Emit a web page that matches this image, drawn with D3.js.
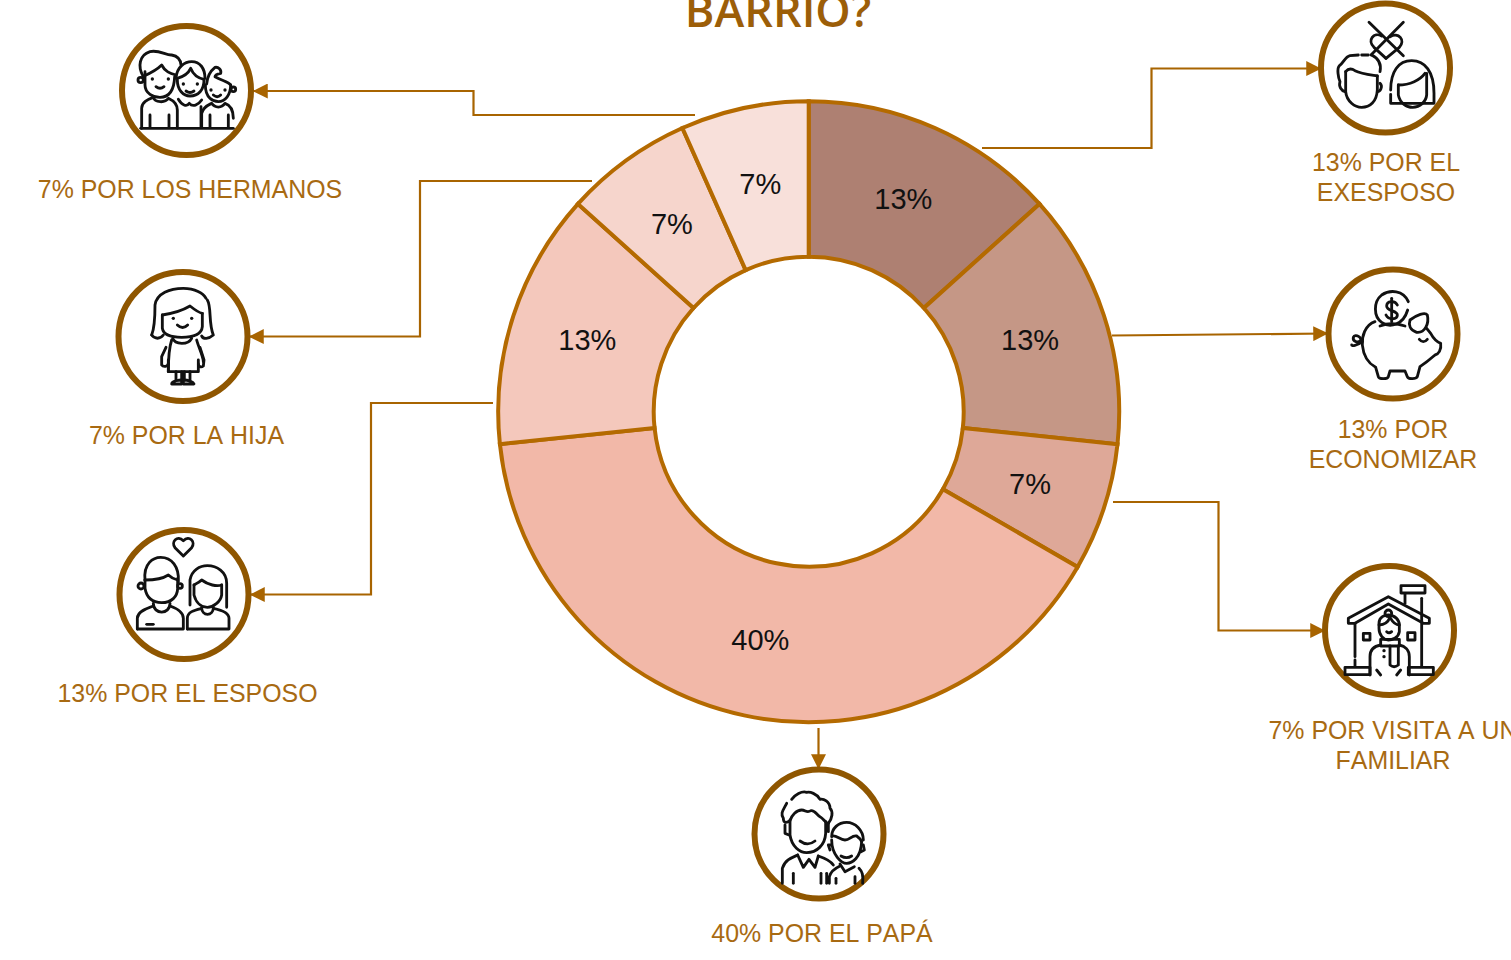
<!DOCTYPE html>
<html><head><meta charset="utf-8">
<script src="https://cdn.jsdelivr.net/npm/d3@7/dist/d3.min.js"></script>
<style>html,body{margin:0;padding:0;background:#fff;overflow:hidden}svg{display:block}text{font-kerning:none}</style>
</head><body><svg id="c" width="1511" height="960"></svg>
<script>
const sliceNames = ["Exesposo","Economizar","Visita a un familiar","Papá","Esposo","Hija","Hermanos"];
const sliceValues = [2,2,1,6,2,1,1];
const sliceLabels = ["13%","13%","7%","40%","13%","7%","7%"];
const sliceColors = ["#ae8072","#c59786","#dea898","#f2b8a8","#f4c8bc","#f6d5cc","#f8e0da"];

const svg = d3.select("#c");
const BROWN="#a86400", RING="#8f5600", LABEL="#a86a12", STROKE="#b46a00";

svg.append("defs").append("marker").attr("id","arr").attr("viewBox","0 0 12 12")
  .attr("refX",11).attr("refY",6).attr("markerWidth",15).attr("markerHeight",15)
  .attr("markerUnits","userSpaceOnUse").attr("orient","auto")
  .append("path").attr("d","M0,0L12,6L0,12Z").attr("fill",BROWN);

svg.append("text").attr("x",778).attr("y",27).attr("text-anchor","middle")
  .attr("font-family","'Open Sans',sans-serif").attr("font-weight",600).attr("font-size",45)
  .attr("fill","#9c5e08").text("BARRIO?");

// donut
const cx=808.7, cy=411.7;
const pie=d3.pie().sort(null).value(d=>d)(sliceValues);
const arc=d3.arc().innerRadius(155).outerRadius(310.5);
const g=svg.append("g").attr("transform",`translate(${cx},${cy})`);
g.selectAll("path").data(pie).join("path").attr("d",arc)
  .attr("fill",(d,i)=>sliceColors[i]).attr("stroke",STROKE).attr("stroke-width",4);
g.selectAll("text").data(pie).join("text")
  .attr("transform",d=>`translate(${arc.centroid(d)})`).attr("text-anchor","middle").attr("dy","0.35em")
  .attr("font-family","'Liberation Sans',Arial,sans-serif").attr("font-size",29).attr("fill","#111")
  .text((d,i)=>sliceLabels[i]);

// connectors
const line=d3.line();
const connectors=[
 [[695,115],[473.5,115],[473.5,91],[254,91]],
 [[592,181],[420,181],[420,336.5],[250,336.5]],
 [[493,403],[371,403],[371,594.5],[251,594.5]],
 [[982,148],[1151.5,148],[1151.5,68.5],[1320,68.5]],
 [[1112,335.5],[1327,333.5]],
 [[1113,502],[1218.5,502],[1218.5,630.5],[1324,630.5]],
 [[818.5,728],[818.5,768]]
];
svg.selectAll("path.conn").data(connectors).join("path").attr("class","conn").attr("d",line)
  .attr("fill","none").attr("stroke",BROWN).attr("stroke-width",2.2).attr("marker-end","url(#arr)");

// circular badges with line icons; icon paths are in 3x crop units
const dot=(x,y,r)=>`M${x-r},${y}a${r},${r} 0 1,0 ${2*r},0a${r},${r} 0 1,0 ${-2*r},0Z`;
const badges=[
 {c:[186.5,90.5],o:[100,10],d:[
  "M130,200C112,170 118,135 150,125C175,118 200,137 215,135C232,138 242,150 243,165",
  dot(122,210,8),
  "M135,185L135,225C135,250 160,262 180,262C200,262 222,250 224,200",
  "M132,198C150,190 170,180 185,165C195,185 210,190 228,195",
  "M168,230Q180,240 192,230","M125,355L125,295C125,275 145,268 160,262C165,278 195,280 205,265C220,272 232,285 232,300L232,355",
  "M150,315L150,352","M207,315L207,352","M122,355L400,355",
  "M228,205C230,170 255,155 275,155C300,155 315,175 315,205",
  "M232,205C250,200 265,190 272,175C280,195 295,205 312,208",
  "M232,210C232,240 250,258 270,258C295,258 312,240 312,210",
  "M258,243Q270,252 282,243","M235,268C245,285 260,292 268,280C278,292 295,285 305,270","M303,352L303,290",
  "M316,225C316,265 340,275 355,275C375,275 392,255 392,225",
  "M320,222C322,195 335,180 345,172C355,170 365,180 362,190C352,192 345,195 345,200C365,212 385,215 392,225",
  dot(400,238,7),"M340,255Q352,265 362,255",
  "M305,352L305,310C310,290 325,285 335,280C345,295 365,295 375,280C390,285 400,300 400,325",
  "M330,315L330,352","M385,315L385,352"],
  dots:[[157,207],[205,207],[250,222],[292,222],[333,240],[375,240]]},
 {c:[183,336.5],o:[100,260],d:[
  "M155,225C165,200 165,165 165,135C170,100 210,85 250,85C285,85 310,100 318,115",
  "M322,120C335,140 325,190 340,225C325,238 310,238 305,228","M155,225C165,238 180,238 190,225",
  "M187,165L187,205C190,225 210,232 245,232C285,232 305,222 307,200L307,160",
  "M187,165C220,160 250,150 270,138C285,150 295,158 307,160","M232,195Q248,210 263,195",
  "M218,235C225,255 265,255 275,235","M215,240C205,270 205,305 205,335L295,335L295,300","M205,335L205,300",
  "M290,240C295,260 310,290 310,305","M198,262L185,290L185,315C190,322 205,320 205,310",
  "M300,262L312,300L310,318C305,322 295,322 295,312","M228,335L228,358","M245,335L245,358","M253,335L253,358","M270,335L270,358",
  "M215,372C215,362 240,360 245,360L245,372Z","M250,372L250,360C265,360 280,365 282,372Z"],
  dots:[[220,175],[275,175]]},
 {c:[184,594.5],o:[100,520],d:[
  "M250,108L225,83C212,65 232,45 250,62C268,45 288,65 275,83Z",
  "M135,180C130,130 160,112 182,112C215,112 238,140 235,185",
  "M135,180L135,205C140,235 160,248 185,248C215,248 232,230 233,205L233,175",
  "M135,180C160,180 190,175 205,165C215,175 225,178 233,180",dot(123,198,9),dot(240,198,7),
  "M160,250C160,285 210,285 210,250","M112,327L112,295C112,275 140,265 160,258","M210,258C230,265 250,275 250,295L250,327L112,327","M140,313L160,313",
  "M270,255L270,180C275,150 300,137 322,137C350,137 380,155 380,190L380,262",
  "M282,195L282,225C290,255 310,262 322,262C340,262 362,245 365,225L365,195",
  "M282,195C300,185 305,180 305,180C325,195 350,200 365,195","M305,262C305,290 340,290 340,262",
  "M262,327L262,295C262,275 285,270 305,265","M340,265C365,270 387,280 387,295L387,327L262,327"],dots:[]},
 {c:[1385.5,68],o:[1300,0],d:[
  "M207,67L310,167","M310,67L213,165",
  "M258,175L222,142C200,120 222,95 245,108","M270,110C295,95 318,120 298,142L258,175",
  "M175,165L150,167C135,170 130,190 118,197C110,205 115,235 120,245C115,260 125,272 135,275",
  "M137,215L137,275C140,305 165,322 185,322C210,322 230,305 232,270L232,228",
  "M137,215C145,205 155,205 165,212C185,222 215,225 232,228","M240,250C250,260 240,275 233,275","M185,165L205,165",
  "M215,165C235,175 245,190 240,215",
  "M272,270C272,215 295,182 335,182C375,182 402,215 402,280L402,310L272,310L272,283",
  "M295,255L295,285C300,310 320,322 338,322C360,322 378,305 380,285L380,220","M295,255C330,255 360,240 375,220"],dots:[]},
 {c:[1393,334],o:[1310,260],d:[
  "M295,125C280,90 240,88 215,105C190,125 190,170 215,187C240,205 280,195 293,150",
  "M262,135C255,120 230,122 230,138C230,155 262,150 262,165C262,180 235,180 228,165","M245,115L245,185",
  "M210,198C230,190 260,190 285,198",
  "M195,185C165,195 155,230 157,255C160,285 175,310 197,322L205,350C208,358 232,358 235,350L240,333L285,333L292,350C295,358 318,358 322,350L330,320C345,310 360,298 375,285C385,283 395,270 392,250C380,245 370,235 362,220L350,205",
  "M300,180C320,165 345,155 352,165C358,190 345,220 320,217C300,210 295,195 300,180Z",
  "M328,238Q340,252 352,238","M157,245C140,258 125,258 125,255M150,245C160,232 135,220 130,232C127,245 145,250 155,240"],dots:[]},
 {c:[1389.5,630.5],o:[1310,560],d:[
  "M115,175L235,110L358,175L358,190L340,190L235,132L135,190L115,190Z",
  "M273,77h72v22h-72Z","M285,100L285,130","M335,115L335,320","M135,190L135,290","M135,300L135,320",
  "M105,322h75v22h-75Z","M295,322h75v22h-75Z","M160,220h20v20h-20Z","M293,218h22v22h-22Z",
  "M207,190C207,170 225,165 235,165C255,165 268,180 268,195L268,215C265,235 245,240 235,240C220,240 207,225 207,205Z",
  dot(235,160,10),"M207,195C225,195 235,185 240,172C250,190 260,195 268,195","M230,215Q237,222 245,215",
  "M212,238L268,238L268,258L212,258Z","M240,258L240,315Q252,325 265,315L265,258",
  "M180,345L180,290C180,265 195,258 212,255","M268,255C285,258 298,270 298,290L298,345",
  "M200,330L212,345","M272,330L260,345"],
  dots:[[222,272],[222,290]]},
 {c:[819,834],o:[735,760],d:[
  "M155,130C145,150 135,160 145,175C145,190 155,190 165,182C170,165 185,150 200,150C212,150 215,160 228,152C240,150 245,165 255,170C265,175 272,190 280,190C292,175 295,155 285,145C285,125 265,115 255,118C245,100 225,95 215,97C200,92 180,105 170,118",
  "M165,180L165,225C170,260 195,278 215,278C245,278 270,255 272,220L272,185",
  "M150,195L150,220L162,225","M280,190L280,215","M195,243Q218,260 240,243",
  "M188,285L205,322L222,298L240,322L250,288","M142,370L142,325C150,300 170,293 188,285","M250,288C265,293 285,300 295,315",
  "M175,340L175,370","M258,340L258,370","M275,340L275,370",
  "M290,230C290,205 310,187 335,187C360,187 385,210 385,240",
  "M290,240C290,285 320,310 335,310C350,310 378,295 380,245",
  "M292,228C305,225 315,240 330,240C345,240 350,225 365,228C375,235 378,240 380,245",
  "M290,255L280,255L285,270","M385,255L388,270L378,275","M318,288Q335,298 350,288","M315,312L330,335L358,320",
  "M283,370L283,350C287,335 300,325 315,318","M372,325C382,335 385,345 383,370","M303,355L303,370","M360,350L360,370"],dots:[]}
];
badges.forEach(b=>{
  svg.append("circle").attr("cx",b.c[0]).attr("cy",b.c[1]).attr("r",64.5)
    .attr("fill","#fff").attr("stroke",RING).attr("stroke-width",6);
  const ic=svg.append("g").attr("transform",`translate(${b.o[0]},${b.o[1]}) scale(${1/3})`)
    .attr("fill","none").attr("stroke","#111").attr("stroke-width",8.5).attr("stroke-linecap","round").attr("stroke-linejoin","round");
  b.d.forEach(p=>ic.append("path").attr("d",p));
  b.dots.forEach(p=>ic.append("circle").attr("cx",p[0]).attr("cy",p[1]).attr("r",5).attr("fill","#111").attr("stroke","none"));
});

// captions
const captions=[
 {x:190,y:198,t:["7% POR LOS HERMANOS"]},
 {x:186.5,y:444,t:["7% POR LA HIJA"]},
 {x:187.5,y:702,t:["13% POR EL ESPOSO"]},
 {x:1386,y:171,t:["13% POR EL","EXESPOSO"]},
 {x:1393,y:437.5,t:["13% POR","ECONOMIZAR"]},
 {x:1393,y:738.5,t:["7% POR VISITA A UN","FAMILIAR"]},
 {x:822,y:942,t:["40% POR EL PAPÁ"]}
];
captions.forEach(c=>{
  const t=svg.append("text").attr("text-anchor","middle").attr("font-family","'Liberation Sans',Arial,sans-serif")
    .attr("font-size",24.9).attr("fill",LABEL);
  c.t.forEach((s,i)=>t.append("tspan").attr("x",c.x).attr("y",c.y+i*30).text(s));
});
</script></body></html>
